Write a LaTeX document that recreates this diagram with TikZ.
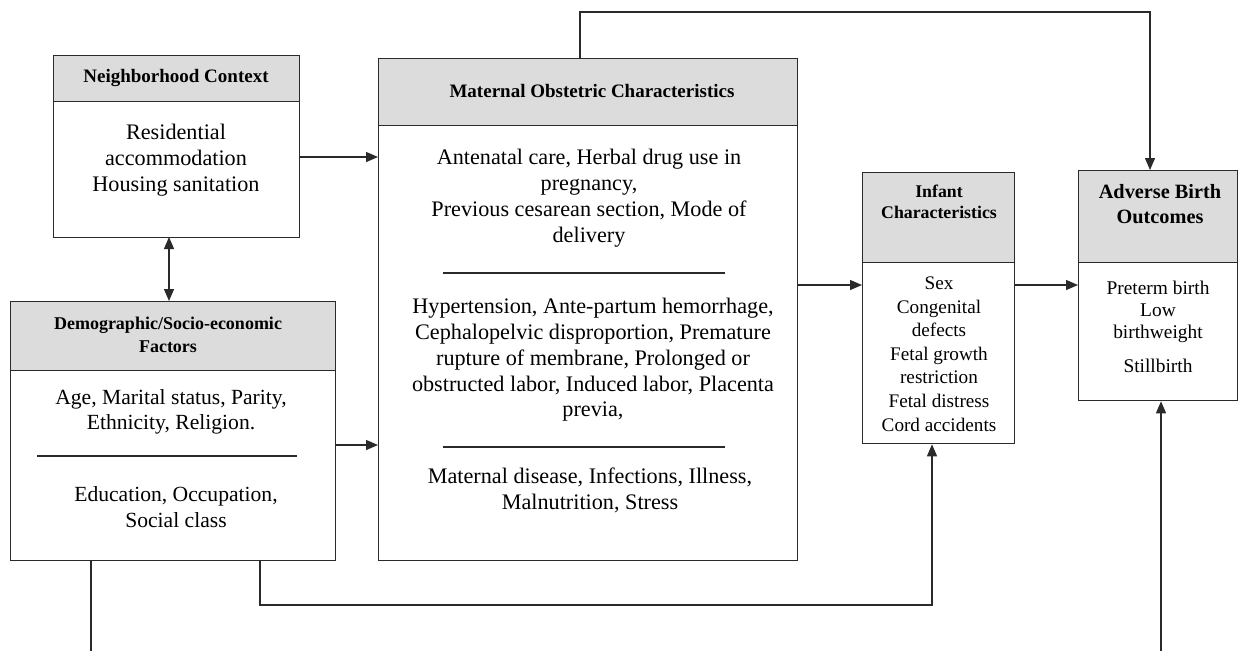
\documentclass[tikz,border=0pt]{standalone}
\usepackage{fontspec}
\setmainfont{Liberation Serif}
\usetikzlibrary{arrows.meta,positioning}
\definecolor{hdr}{HTML}{DCDCDC}
\definecolor{ln}{HTML}{2A2A2A}
\tikzset{
  boxframe/.style={draw=ln,line width=1.3pt,fill=white,rectangle,anchor=north west,inner sep=0pt},
  hdrframe/.style={draw=ln,line width=1.3pt,fill=hdr,rectangle,anchor=north west,inner sep=0pt},
  hdtext/.style={font=\bfseries\fontsize{19}{23}\selectfont,align=center,inner sep=0pt},
  bodytext/.style={font=\fontsize{22.2}{25.8}\selectfont,align=center,inner sep=0pt},
  smalltext/.style={font=\fontsize{19.2}{23.6}\selectfont,align=center,inner sep=0pt},
  sepline/.style={draw=ln,line width=1.3pt},
  conn/.style={draw=ln,line width=1.3pt},
  arr/.style={conn,-{Triangle[length=12pt,width=10pt]}},
  darr/.style={conn,{Triangle[length=12pt,width=10pt]}-{Triangle[length=12pt,width=10pt]}}
}
\begin{document}
\begin{tikzpicture}[x=1pt,y=-1pt]
\useasboundingbox (0,0) rectangle (1242,651);
% Neighborhood
\node[boxframe,minimum width=246pt,minimum height=182pt] (nb) at (53,55) {};
\node[hdrframe,minimum width=246pt,minimum height=46pt] (nbh) at (53,55) {};
\node[hdtext] (nbht) at (176,78) {Neighborhood Context};
\node[bodytext] (nbt) at (176,160) {Residential\\accommodation\\Housing sanitation};
% Maternal
\node[boxframe,minimum width=419pt,minimum height=502pt] (mo) at (378,58) {};
\node[hdrframe,minimum width=419pt,minimum height=67pt] (moh) at (378,58) {};
\node[hdtext] (moht) at (592,91) {Maternal Obstetric Characteristics};
\node[bodytext] (mot1) at (589,198) {Antenatal care, Herbal drug use in\\pregnancy,\\Previous cesarean section, Mode of\\delivery};
\coordinate (ms1a) at (443,273); \coordinate (ms1b) at (725,273);
\draw[sepline] (ms1a) -- (ms1b);
\node[bodytext] (mot2) at (593,360) {Hypertension, Ante-partum hemorrhage,\\Cephalopelvic disproportion, Premature\\rupture of membrane, Prolonged or\\obstructed labor, Induced labor, Placenta\\previa,};
\coordinate (ms2a) at (443,447); \coordinate (ms2b) at (725,447);
\draw[sepline] (ms2a) -- (ms2b);
\node[bodytext] (mot3) at (590,490) {Maternal disease, Infections, Illness,\\Malnutrition, Stress};
% Demographic
\node[boxframe,minimum width=325pt,minimum height=259pt] (ds) at (10,301) {};
\node[hdrframe,minimum width=325pt,minimum height=69pt] (dsh) at (10,301) {};
\node[hdtext,font=\bfseries\fontsize{18}{23}\selectfont] (dsht) at (168,335) {Demographic/Socio-economic\\Factors};
\node[bodytext,font=\fontsize{21.6}{25.5}\selectfont] (dst1) at (171,412) {Age, Marital status, Parity,\\Ethnicity, Religion.};
\coordinate (dsa) at (37,456); \coordinate (dsb) at (297,456);
\draw[sepline] (dsa) -- (dsb);
\node[bodytext,font=\fontsize{21.6}{25.5}\selectfont] (dst2) at (176,507) {Education, Occupation,\\Social class};
% Infant
\node[boxframe,minimum width=152pt,minimum height=271pt] (inf) at (862,172) {};
\node[hdrframe,minimum width=152pt,minimum height=90pt] (infh) at (862,172) {};
\node[hdtext,font=\bfseries\fontsize{17.8}{21}\selectfont] (infht) at (939,202) {Infant\\Characteristics};
\node[smalltext] (inft) at (939,354) {Sex\\Congenital\\defects\\Fetal growth\\restriction\\Fetal distress\\Cord accidents};
% Adverse
\node[boxframe,minimum width=159pt,minimum height=230pt] (ab) at (1078,170) {};
\node[hdrframe,minimum width=159pt,minimum height=92pt] (abh) at (1078,170) {};
\node[hdtext,font=\bfseries\fontsize{20.3}{25}\selectfont] (abht) at (1160,204) {Adverse Birth\\Outcomes};
\node[font=\fontsize{19.4}{22}\selectfont,align=center,inner sep=0pt] (abt) at (1158,312) {Preterm birth\\Low\\birthweight};
\node[font=\fontsize{19.4}{22}\selectfont,inner sep=0pt] (abt2) at (1158,366) {Stillbirth};
% connectors
\draw[arr] (nb.east |- 0,157) -- (mo.west |- 0,157);
\draw[darr] (169,237) -- (169,301);
\draw[arr] (ds.east |- 0,445) -- (mo.west |- 0,445);
\draw[arr] (mo.east |- 0,285) -- (inf.west |- 0,285);
\draw[arr] (inf.east |- 0,285) -- (ab.west |- 0,285);
\coordinate (t1) at (580,12); \coordinate (t2) at (1150,12);
\draw[arr] (mo.north -| t1) -- (t1) -- (t2) -- (ab.north -| t2);
\coordinate (b1) at (260,605); \coordinate (b2) at (932,605);
\draw[arr] (ds.south -| b1) -- (b1) -- (b2) -- (inf.south -| b2);
\coordinate (l1) at (91,651);
\draw[conn] (ds.south -| l1) -- (l1);
\coordinate (r1) at (1161,651);
\draw[arr] (r1) -- (ab.south -| r1);
\end{tikzpicture}
\end{document}
